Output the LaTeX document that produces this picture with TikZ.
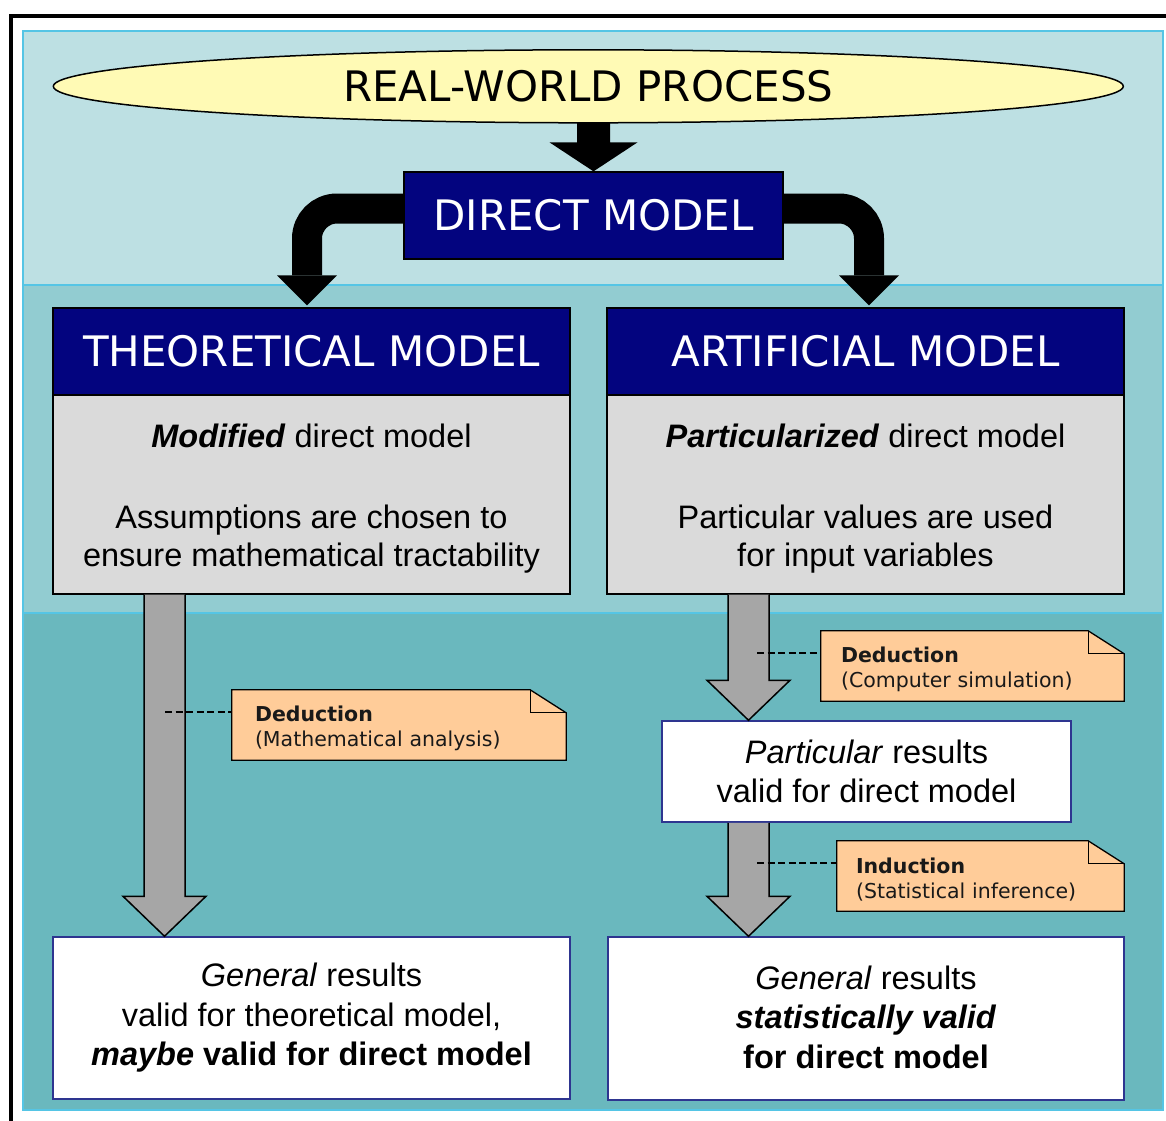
\documentclass[tikz,border=0pt]{standalone}
\usepackage{fontspec}
\setmainfont{Liberation Sans}
\newfontfamily\verd{DejaVu Sans}
\usetikzlibrary{shapes.geometric,calc}
\definecolor{paneltop}{HTML}{BDE0E3}
\definecolor{panelmid}{HTML}{92CCD1}
\definecolor{panelbot}{HTML}{6AB8BE}
\definecolor{panelline}{HTML}{55C5E5}
\definecolor{navy}{HTML}{03047F}
\definecolor{bodygrey}{HTML}{DADADA}
\definecolor{arrowgrey}{HTML}{A6A6A6}
\definecolor{notefill}{HTML}{FFCC99}
\definecolor{ellfill}{HTML}{FFFAB5}
\definecolor{resline}{HTML}{2E3590}
\begin{document}
\begin{tikzpicture}[x=1pt,y=-1pt,
  panel/.style={draw=panelline,line width=2pt},
  bigcaps/.style={font=\verd\fontsize{42}{50}\selectfont,text=white},
  header/.style={draw=black,line width=1.3pt,fill=navy,inner sep=0pt,bigcaps},
  bodybox/.style={draw=black,line width=1.3pt,fill=bodygrey,inner sep=0pt,align=center,
    font=\fontsize{32.5}{38}\selectfont},
  resultbox/.style={draw=resline,line width=1.5pt,fill=white,inner sep=0pt,align=center,
    font=\fontsize{32.5}{39.5}\selectfont},
  notebox/.style={inner ysep=0pt,align=left,text=black!90,
    font=\verd\fontsize{20.5}{25}\selectfont},
  noteline/.style={draw=black,line width=1.3pt,fill=notefill,line join=miter},
  bigarrow/.style={fill=black},
  band/.style={draw=black,line width=30pt},
  fatarrow/.style={draw=black,line width=1.5pt,fill=arrowgrey,line join=miter},
  leader/.style={draw=black,line width=1.4pt,dash pattern=on 7pt off 3.5pt},
]
\useasboundingbox (0,0) rectangle (1166,1120);

% outer frame
\draw[line width=4.5pt] (1175,16) -- (10.8,16) -- (10.8,1130);

% background bands
\path[panel,fill=paneltop] (23,31) rectangle (1163,285);
\path[panel,fill=panelmid] (23,285) rectangle (1163,613);
\path[panel,fill=panelbot] (23,613) rectangle (1163,1110);

% boxes
\node[header,minimum width=379,minimum height=87] (dm) at (593.5,215.5) {DIRECT MODEL};
\node[header,minimum width=517,minimum height=87] (th) at (311.5,351.5) {THEORETICAL MODEL};
\node[header,minimum width=517,minimum height=87] (ah) at (865.5,351.5) {ARTIFICIAL MODEL};
\node[bodybox,minimum width=517,minimum height=199] (tb) at (311.5,494.5)
  {\rule{0pt}{31pt}\textbf{\textit{Modified}} direct model\\[43pt]Assumptions are chosen to\\ensure mathematical tractability};
\node[bodybox,minimum width=517,minimum height=199] (ab) at (865.5,494.5)
  {\rule{0pt}{31pt}\textbf{\textit{Particularized}} direct model\\[43pt]Particular values are used\\for input variables};
\node[resultbox,minimum width=409,minimum height=101] (pr) at (866.5,771.5)
  {\textit{Particular} results\\valid for direct model};
\node[resultbox,minimum width=517,minimum height=162] (gl) at (311.5,1018)
  {\textit{General} results\\valid for theoretical model,\\\textbf{\textit{maybe} valid for direct model}};
\node[resultbox,minimum width=516,minimum height=163] (gr) at (866,1018.5)
  {\textit{General} results\\\textbf{\textit{statistically valid}}\\\textbf{for direct model}\rule[-3pt]{0pt}{3pt}};

% black arrows out of the real-world process and the direct model
\fill[bigarrow] let \p2=(dm.north) in
  (\x2-16.5pt,-110pt) -- (\x2-16.5pt,\y2+29pt) -- (\x2-44pt,\y2+29pt) -- (\p2)
  -- (\x2+44pt,\y2+29pt) -- (\x2+16.5pt,\y2+29pt) -- (\x2+16.5pt,-110pt) -- cycle;
\node[ellipse,draw=black,line width=1.5pt,fill=ellfill,minimum width=1070,minimum height=73,
  inner sep=0pt,font=\verd\fontsize{42}{50}\selectfont] (ell) at (588.3,86.3) {REAL-WORLD PROCESS};

\draw[band] let \p1=(dm.west), \p2=(th.north) in
  (\x1+2pt,\y1+7pt) -- (337pt,\y1+7pt) arc[start angle=90,end angle=180,radius=30pt]
  -- (307pt,\y2+32pt);
\fill[bigarrow] let \p2=(th.north) in
  (277pt,\y2+32pt) -- (337pt,\y2+32pt) -- (307pt,\y2+2pt) -- cycle;
\draw[band] let \p1=(dm.east), \p2=(ah.north) in
  (\x1-2pt,\y1+7pt) -- (839pt,\y1+7pt) arc[start angle=90,end angle=0,radius=30pt]
  -- (869pt,\y2+32pt);
\fill[bigarrow] let \p2=(ah.north) in
  (839pt,\y2+32pt) -- (899pt,\y2+32pt) -- (869pt,\y2+2pt) -- cycle;
% redraw the direct model on top of the band ends
\node[header,minimum width=379,minimum height=87] at (dm) {DIRECT MODEL};

% grey block arrows
\path[fatarrow] let \p1=(tb.south), \p2=(gl.north) in
  (144pt,\y1) -- (144pt,\y2+40pt) -- (123pt,\y2+40pt) -- (164.5pt,\y2)
  -- (206pt,\y2+40pt) -- (185pt,\y2+40pt) -- (185pt,\y1);
\path[fatarrow] let \p1=(ab.south), \p2=(pr.north) in
  (728pt,\y1) -- (728pt,\y2+40pt) -- (707pt,\y2+40pt) -- (748.5pt,\y2)
  -- (790pt,\y2+40pt) -- (769pt,\y2+40pt) -- (769pt,\y1);
\path[fatarrow] let \p1=(pr.south), \p2=(gr.north) in
  (728pt,\y1) -- (728pt,\y2+40pt) -- (707pt,\y2+40pt) -- (748.5pt,\y2)
  -- (790pt,\y2+40pt) -- (769pt,\y2+40pt) -- (769pt,\y1);

% notes: placement nodes, folded outlines, then their texts
\node[notebox,minimum height=70,inner xsep=23pt,text width=288pt] (n1) at (399,725) {};
\node[notebox,minimum height=70,inner xsep=20pt,text width=263pt] (n2) at (972.5,666) {};
\node[notebox,minimum height=70,inner xsep=19pt,text width=249pt] (n3) at (980.5,876) {};
\foreach \n in {n1,n2,n3}{
  \path[noteline] (\n.north west) -- ([xshift=-36pt]\n.north east) -- ([yshift=-23pt]\n.north east)
    -- (\n.south east) -- (\n.south west) -- cycle;
  \draw[line width=1.3pt,line join=miter] ([xshift=-36pt]\n.north east)
    -- ([xshift=-36pt,yshift=-23pt]\n.north east) -- ([yshift=-23pt]\n.north east);
}
\node[notebox,minimum height=70,inner xsep=23pt,text width=288pt] at (n1) {\rule{0pt}{22pt}\textbf{Deduction}\\(Mathematical analysis)};
\node[notebox,minimum height=70,inner xsep=20pt,text width=263pt] at (n2) {\rule{0pt}{22pt}\textbf{Deduction}\\(Computer simulation)};
\node[notebox,minimum height=70,inner xsep=19pt,text width=249pt] at (n3) {\rule{0pt}{22pt}\textbf{Induction}\\(Statistical inference)};

% dashed leaders from the arrows to the notes
\draw[leader] let \p1=([yshift=-22pt]n1.north west) in (165pt,\y1) -- (\p1);
\draw[leader] let \p1=([yshift=-22pt]n2.north west) in (757pt,\y1) -- (\p1);
\draw[leader] let \p1=([yshift=-22pt]n3.north west) in (757pt,\y1) -- (\p1);
\end{tikzpicture}
\end{document}
